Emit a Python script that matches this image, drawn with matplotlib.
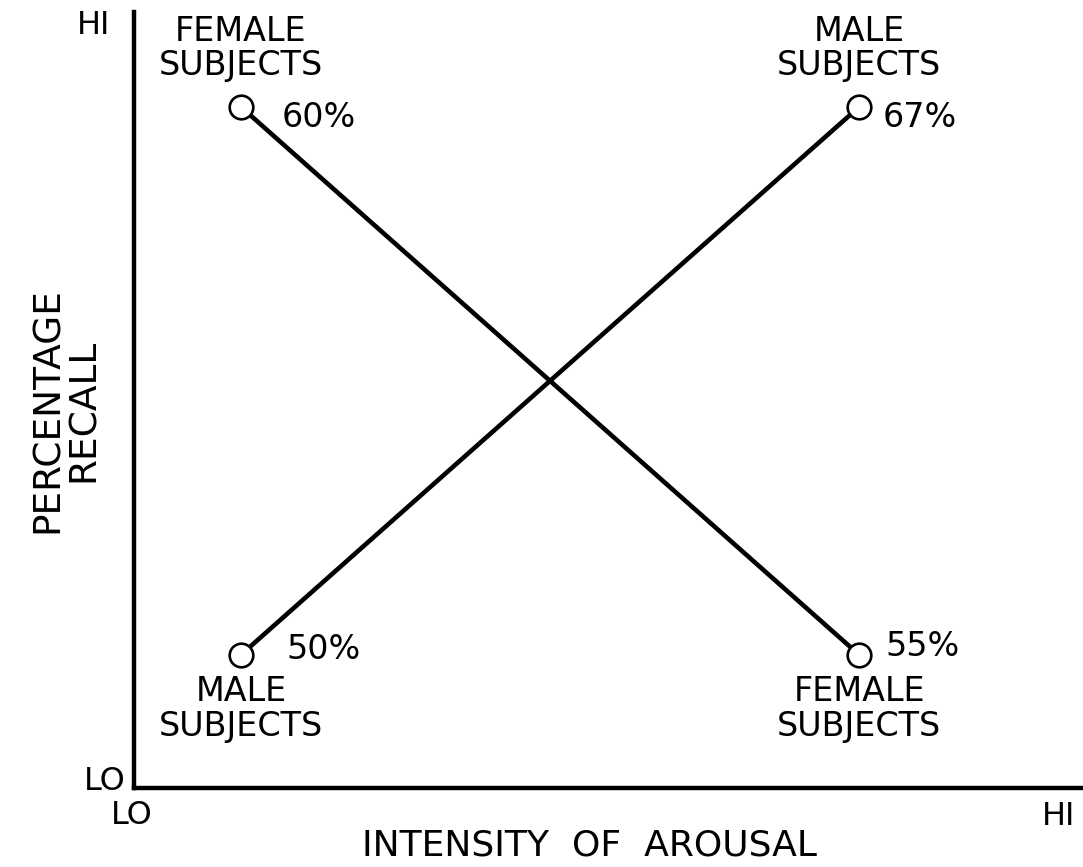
import matplotlib.pyplot as plt

# schematic levels (LO = 0, HI = 1)
arousal = [0, 1]
female_level = [1, 0]
male_level = [0, 1]

# percentage recall written next to each point
female_pct = ['60%', '55%']
male_pct = ['50%', '67%']

ink = 'black'

fig = plt.figure(figsize=(10.83, 8.67), dpi=100)
ax = fig.add_axes([0.1237, 0.0911, 0.8763, 0.895])

# the two crossing lines with open circles
for lev in (female_level, male_level):
    ax.plot(arousal, lev, color=ink, lw=3.3, solid_capstyle='butt', zorder=2)
    ax.plot(arousal, lev, 'o', ms=17, mfc='white', mec=ink, mew=1.9, zorder=3)

ax.set_xlim(-0.173, 1.362)
ax.set_ylim(-0.243, 1.173)

# percent labels
pct_offsets = {(0, 1): (29, -8), (1, 1): (17, -8), (0, 0): (33, 4), (1, 0): (19, 6)}
for lev, pcts in ((female_level, female_pct), (male_level, male_pct)):
    for x, y, p in zip(arousal, lev, pcts):
        ax.annotate(p, (x, y), xytext=pct_offsets[(x, y)], textcoords='offset points',
                    ha='left', va='center', fontsize=24, color=ink)

# group labels
for lev, name in ((female_level, 'FEMALE\nSUBJECTS'), (male_level, 'MALE\nSUBJECTS')):
    for x, y in zip(arousal, lev):
        dy = 42 if y == 1 else -39
        ax.annotate(name, (x, y), xytext=(0, dy), textcoords='offset points',
                    ha='center', va='center', fontsize=24, color=ink,
                    linespacing=1.06, multialignment='center')

# axes styling
for s in ('top', 'right'):
    ax.spines[s].set_visible(False)
for s in ('left', 'bottom'):
    ax.spines[s].set_linewidth(3.2)
    ax.spines[s].set_color(ink)
ax.set_xticks([])
ax.set_yticks([])

ax.text(-0.0253, 0.983, 'HI', transform=ax.transAxes, ha='right', va='center', fontsize=23)
ax.text(-0.0084, 0.009, 'LO', transform=ax.transAxes, ha='right', va='center', fontsize=23)
ax.text(-0.002, -0.036, 'LO', transform=ax.transAxes, ha='center', va='center', fontsize=23)
ax.text(0.9916, -0.037, 'HI', transform=ax.transAxes, ha='right', va='center', fontsize=23)
ax.text(0.4805, -0.0735, 'INTENSITY  OF  AROUSAL', transform=ax.transAxes,
        ha='center', va='center', fontsize=26)
ax.text(-0.0717, 0.487, 'PERCENTAGE\nRECALL', transform=ax.transAxes, rotation=90,
        ha='center', va='center', fontsize=27, linespacing=1.0, multialignment='center')

fig.savefig('out.png', dpi=100)
